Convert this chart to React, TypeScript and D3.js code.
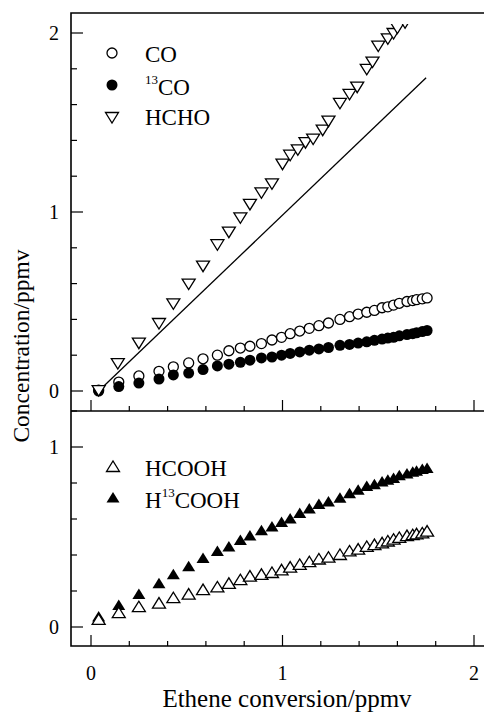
import React, { useEffect, useRef } from 'react';
import * as d3 from 'd3';

// ethene conversion (ppmv) for the densely sampled series
const conversion = [0.04, 0.145, 0.25, 0.355, 0.43, 0.51, 0.585, 0.66, 0.72, 0.78, 0.83, 0.89, 0.945, 0.995, 1.04, 1.09, 1.14, 1.19, 1.24, 1.30, 1.35, 1.395, 1.44, 1.48, 1.52, 1.55, 1.58, 1.61, 1.65, 1.68, 1.70, 1.73, 1.755];
const co = [0.005, 0.05, 0.084, 0.11, 0.135, 0.157, 0.18, 0.2, 0.225, 0.24, 0.25, 0.265, 0.285, 0.3, 0.32, 0.335, 0.35, 0.365, 0.38, 0.4, 0.415, 0.43, 0.44, 0.45, 0.465, 0.47, 0.48, 0.49, 0.5, 0.505, 0.51, 0.515, 0.52];
const co13 = [0.0, 0.025, 0.044, 0.067, 0.09, 0.1, 0.12, 0.14, 0.15, 0.16, 0.172, 0.185, 0.19, 0.2, 0.21, 0.218, 0.228, 0.235, 0.243, 0.255, 0.26, 0.268, 0.275, 0.283, 0.29, 0.296, 0.3, 0.308, 0.315, 0.32, 0.325, 0.332, 0.338];
const hcooh = [0.04, 0.077, 0.11, 0.13, 0.16, 0.18, 0.205, 0.22, 0.24, 0.26, 0.28, 0.29, 0.3, 0.315, 0.33, 0.345, 0.36, 0.375, 0.385, 0.4, 0.42, 0.43, 0.445, 0.455, 0.465, 0.475, 0.485, 0.495, 0.505, 0.51, 0.515, 0.52, 0.53];
const h13cooh = [0.056, 0.12, 0.18, 0.24, 0.29, 0.335, 0.38, 0.42, 0.445, 0.48, 0.505, 0.535, 0.555, 0.58, 0.6, 0.63, 0.655, 0.68, 0.695, 0.715, 0.74, 0.76, 0.78, 0.79, 0.805, 0.815, 0.825, 0.84, 0.85, 0.86, 0.865, 0.875, 0.88];

// HCHO is sampled on its own grid
const hchoX = [0.04, 0.14, 0.25, 0.355, 0.43, 0.51, 0.585, 0.66, 0.72, 0.78, 0.83, 0.89, 0.945, 1.0, 1.04, 1.08, 1.12, 1.16, 1.21, 1.24, 1.3, 1.35, 1.39, 1.44, 1.47, 1.5, 1.55, 1.58, 1.6, 1.64];
const hcho = [0.005, 0.156, 0.27, 0.38, 0.49, 0.6, 0.7, 0.82, 0.89, 0.97, 1.045, 1.11, 1.16, 1.27, 1.32, 1.35, 1.39, 1.41, 1.46, 1.51, 1.61, 1.66, 1.7, 1.8, 1.84, 1.93, 1.97, 2.0, 2.03, 2.06];

// straight reference line in the top panel
const lineX = [0.04, 1.75];
const lineY = [0.0, 1.75];

const xTicks = [0, 1, 2];
const topTicks = [0, 1, 2];
const bottomTicks = [0, 1];

const FONT = "Liberation Serif, DejaVu Serif, serif";

function App() {
  const ref = useRef<SVGSVGElement>(null);

  useEffect(() => {
    const svg = d3.select(ref.current);
    svg.selectAll('*').remove();

    const left = 71;
    const right = 493;
    const top1 = 13, bot1 = 411, bot2 = 646;

    const x = d3.scaleLinear().domain([0, 2]).range([91, 474]);
    const yTop = d3.scaleLinear().domain([0, 2]).range([391, 33]);
    const yBot = d3.scaleLinear().domain([0, 1]).range([627, 447]);

    // clip for the top data (points run off the top)
    svg.append('clipPath').attr('id', 'clipTop')
      .append('rect').attr('x', left).attr('y', 24).attr('width', right - left).attr('height', bot1 - 24);

    // frame
    const frame = svg.append('g').attr('stroke', '#000').attr('fill', 'none');
    frame.append('path').attr('d', `M${right},${top1}H${left}V${bot2}H${right}`).attr('stroke-width', 1.6);
    frame.append('line').attr('x1', left).attr('x2', right).attr('y1', bot1).attr('y2', bot1).attr('stroke-width', 1.6);

    // x ticks on both panel bottoms (inward)
    const minorX = d3.range(0, 2.01, 0.2);
    [bot1, bot2].forEach(yb => {
      svg.append('g').selectAll('line').data(minorX).join('line')
        .attr('x1', d => x(d)).attr('x2', d => x(d))
        .attr('y1', yb)
        .attr('y2', d => yb - (Math.abs(d - Math.round(d)) < 1e-6 ? 11 : 5))
        .attr('stroke', '#000').attr('stroke-width', 1.2);
    });

    // y ticks
    const yTickLines = (scale: d3.ScaleLinear<number, number>, max: number, majors: number[]) => {
      const minor = d3.range(0, max + 0.001, 0.2);
      svg.append('g').selectAll('line').data(minor).join('line')
        .attr('x1', left)
        .attr('x2', d => left + (majors.some(m => Math.abs(m - d) < 1e-6) ? 12 : 6))
        .attr('y1', d => scale(d)).attr('y2', d => scale(d))
        .attr('stroke', '#000').attr('stroke-width', 1.2);
      svg.append('g').selectAll('text').data(majors).join('text')
        .attr('x', 59).attr('y', d => scale(d)).attr('dy', '0.35em')
        .attr('text-anchor', 'end')
        .style('font-family', FONT).style('font-size', '20px')
        .text(d => d);
    };
    yTickLines(yTop, 2, topTicks);
    yTickLines(yBot, 1.2, bottomTicks);

    svg.append('g').selectAll('text').data(xTicks).join('text')
      .attr('x', d => x(d)).attr('y', 680)
      .attr('text-anchor', 'middle')
      .style('font-family', FONT).style('font-size', '20px')
      .text(d => d);

    // axis titles
    svg.append('text')
      .attr('x', 287).attr('y', 707)
      .attr('text-anchor', 'middle')
      .style('font-family', FONT).style('font-size', '25px')
      .text('Ethene conversion/ppmv');
    svg.append('text')
      .attr('transform', 'translate(29,346) rotate(-90)')
      .attr('text-anchor', 'middle')
      .style('font-family', FONT).style('font-size', '23.5px')
      .text('Concentration/ppmv');

    const downTri = 'M-6.5,-4.5L6.5,-4.5L0,6Z';
    const upTri = 'M-6.5,4.5L6.5,4.5L0,-6Z';

    // top panel
    const gTop = svg.append('g').attr('clip-path', 'url(#clipTop)');
    const line = d3.line<number>().x(d => x(d)).y((d, i) => yTop(lineY[i]));
    gTop.append('path').attr('d', line(lineX)).attr('fill', 'none').attr('stroke', '#000').attr('stroke-width', 1.3);

    gTop.append('g').selectAll('circle').data(co).join('circle')
      .attr('cx', (d, i) => x(conversion[i])).attr('cy', d => yTop(d)).attr('r', 5)
      .attr('fill', '#fff').attr('stroke', '#000').attr('stroke-width', 1.3);
    gTop.append('g').selectAll('circle').data(co13).join('circle')
      .attr('cx', (d, i) => x(conversion[i])).attr('cy', d => yTop(d)).attr('r', 5.5)
      .attr('fill', '#000');
    gTop.append('g').selectAll('path').data(hcho).join('path')
      .attr('d', downTri)
      .attr('transform', (d, i) => `translate(${x(hchoX[i])},${yTop(d)})`)
      .attr('fill', '#fff').attr('stroke', '#000').attr('stroke-width', 1.3);

    // bottom panel
    const gBot = svg.append('g');
    gBot.append('g').selectAll('path').data(h13cooh).join('path')
      .attr('d', upTri)
      .attr('transform', (d, i) => `translate(${x(conversion[i])},${yBot(d)})`)
      .attr('fill', '#000');
    gBot.append('g').selectAll('path').data(hcooh).join('path')
      .attr('d', upTri)
      .attr('transform', (d, i) => `translate(${x(conversion[i])},${yBot(d)})`)
      .attr('fill', '#fff').attr('stroke', '#000').attr('stroke-width', 1.3);

    // legends
    const legendText = (g: d3.Selection<SVGGElement, unknown, null, undefined>, y: number, main: string, pre?: string, sup?: string) => {
      const t = g.append('text').attr('x', 145).attr('y', y)
        .style('font-family', FONT).style('font-size', '23px');
      if (pre) t.append('tspan').text(pre);
      if (sup) t.append('tspan').style('font-size', '13px').attr('dy', -11).text(sup);
      t.append('tspan').attr('dy', sup ? 11 : 0).text(main);
    };
    const lg = svg.append('g');
    lg.append('circle').attr('cx', 112).attr('cy', 53).attr('r', 5).attr('fill', '#fff').attr('stroke', '#000').attr('stroke-width', 1.3);
    legendText(lg, 62, 'CO');
    lg.append('circle').attr('cx', 112).attr('cy', 85).attr('r', 5.5).attr('fill', '#000');
    legendText(lg, 95, 'CO', undefined, '13');
    lg.append('path').attr('d', downTri).attr('transform', 'translate(112,117)').attr('fill', '#fff').attr('stroke', '#000').attr('stroke-width', 1.3);
    legendText(lg, 125, 'HCHO');

    lg.append('path').attr('d', upTri).attr('transform', 'translate(113,467)').attr('fill', '#fff').attr('stroke', '#000').attr('stroke-width', 1.3);
    legendText(lg, 476, 'HCOOH');
    lg.append('path').attr('d', upTri).attr('transform', 'translate(113,498)').attr('fill', '#000');
    legendText(lg, 508, 'COOH', 'H', '13');
  }, []);

  return (
    <svg ref={ref} width={484} height={715}
      style={{ position: 'absolute', left: 0, top: 0, background: '#fff' }} />
  );
}

export default App;
